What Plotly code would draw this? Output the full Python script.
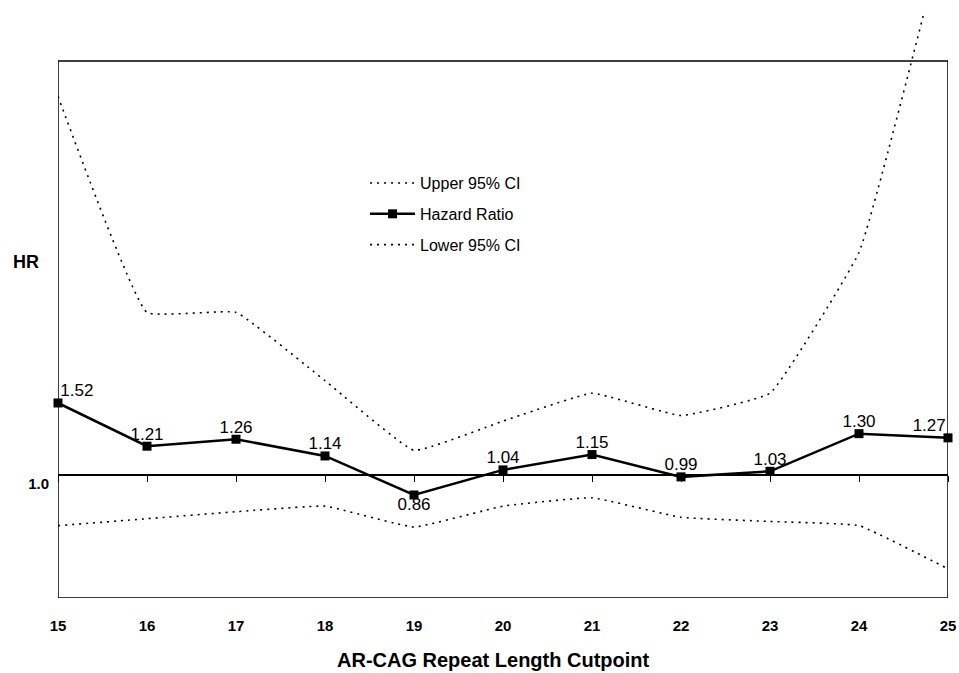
import plotly.graph_objects as go

cutpoints = [15, 16, 17, 18, 19, 20, 21, 22, 23, 24, 25]
hazard_ratio = [1.52, 1.21, 1.26, 1.14, 0.86, 1.04, 1.15, 0.99, 1.03, 1.30, 1.27]
upper_ci = [3.72, 2.17, 2.17, 1.68, 1.18, 1.39, 1.59, 1.43, 1.59, 2.60, 5.0]
lower_ci = [0.64, 0.69, 0.74, 0.78, 0.63, 0.78, 0.84, 0.70, 0.67, 0.64, 0.33]
hr_labels = ["1.52", "1.21", "1.26", "1.14", "0.86", "1.04", "1.15", "0.99", "1.03", "1.30", "1.27"]
label_pos = ["top right"] + ["top center"] * 3 + ["bottom center"] + ["top center"] * 5 + ["top left"]

Y_MIN, Y_MAX = 0.121, 4.325   # visible value range of the plotting area
BOX_TOP = 3.974               # value at the top edge of the drawn frame
REF = 1.0

FONT = "Liberation Sans, Arial, sans-serif"
dot = "2px,5px"

fig = go.Figure()
fig.add_trace(go.Scatter(
    x=cutpoints, y=upper_ci, name="Upper 95% CI", mode="lines",
    line=dict(color="black", width=1.6, dash=dot, shape="spline", smoothing=0.3),
    legendgroup="u", hoverinfo="skip"))
fig.add_trace(go.Scatter(
    x=cutpoints, y=hazard_ratio, name="Hazard Ratio", mode="lines+markers",
    line=dict(color="black", width=2.5),
    marker=dict(symbol="square", size=9, color="black"),
    cliponaxis=False, legendgroup="h"))
fig.add_trace(go.Scatter(
    x=cutpoints, y=lower_ci, name="Lower 95% CI", mode="lines",
    line=dict(color="black", width=1.6, dash=dot, shape="spline", smoothing=0.3),
    legendgroup="l", hoverinfo="skip"))
# data labels for the hazard ratio
fig.add_trace(go.Scatter(
    x=cutpoints, y=hazard_ratio, mode="markers+text", showlegend=False,
    marker=dict(size=2, color="rgba(0,0,0,0)"),
    text=hr_labels, textposition=label_pos,
    textfont=dict(family=FONT, size=17, color="black"),
    cliponaxis=False, hoverinfo="skip"))
# carrier for the bottom tick-label axis
fig.add_trace(go.Scatter(
    x=cutpoints, y=[None] * len(cutpoints), xaxis="x2", mode="lines",
    showlegend=False, hoverinfo="skip"))

fig.add_shape(type="rect", xref="x", yref="y", x0=cutpoints[0], x1=cutpoints[-1],
              y0=Y_MIN, y1=BOX_TOP, line=dict(color="black", width=1.5), layer="below")

fig.add_annotation(text="HR", xref="paper", yref="y", x=-0.036, y=2.53,
                   xanchor="center", yanchor="middle",
                   showarrow=False, font=dict(family=FONT, size=18, color="black", weight="bold"))
fig.add_annotation(text="AR-CAG Repeat Length Cutpoint", xref="paper", yref="paper",
                   x=0.4888, y=-0.1058, xanchor="center", yanchor="middle", showarrow=False,
                   font=dict(family=FONT, size=20, color="black", weight="bold"))

fig.update_layout(
    width=959, height=673,
    margin=dict(l=58, r=11, t=12, b=75),
    plot_bgcolor="white", paper_bgcolor="white",
    showlegend=True,
    legend=dict(x=0.345, y=0.737, xanchor="left", yanchor="top",
                traceorder="grouped", tracegroupgap=7,
                font=dict(family=FONT, size=16, color="black"),
                bgcolor="rgba(0,0,0,0)", itemwidth=45),
    xaxis=dict(range=[cutpoints[0], cutpoints[-1]], anchor="free",
               position=(REF - Y_MIN) / (Y_MAX - Y_MIN),
               showline=True, linecolor="black", linewidth=1.5,
               ticks="outside", ticklen=6, tickwidth=1, tickcolor="black",
               tickvals=cutpoints, showticklabels=False, automargin=False,
               showgrid=False, zeroline=False),
    xaxis2=dict(range=[cutpoints[0], cutpoints[-1]], overlaying="x", anchor="y", side="bottom",
                tickvals=cutpoints, ticktext=[str(c) for c in cutpoints],
                tickfont=dict(family=FONT, size=15, color="black", weight="bold"),
                ticks="", showline=False, showgrid=False, zeroline=False,
                ticklabelstandoff=17, automargin=False),
    yaxis=dict(range=[Y_MIN, Y_MAX], showline=False, showgrid=False, zeroline=False,
               tickvals=[REF], ticktext=["1.0"], ticks="", automargin=False,
               tickfont=dict(family=FONT, size=15, color="black", weight="bold"),
               ticklabelshift=8, ticklabelstandoff=8),
)

fig.write_html("out.html", config={"displayModeBar": False},
               post_script="document.body.style.margin='0px';")
